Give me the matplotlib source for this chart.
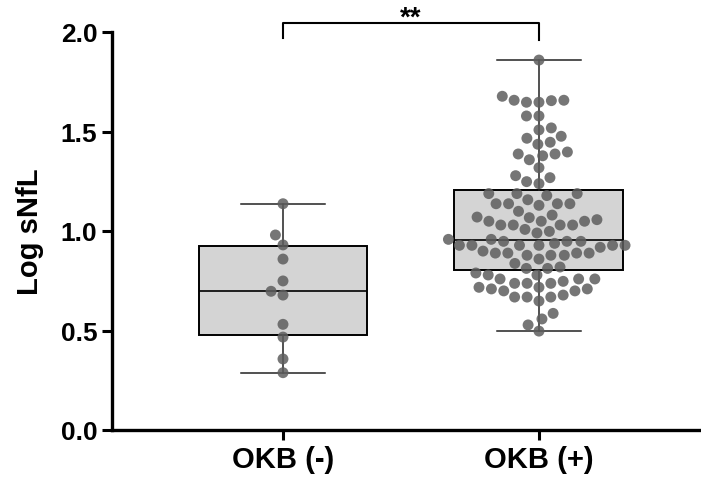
import matplotlib
matplotlib.use("Agg")
import matplotlib.pyplot as plt
import numpy as np

plt.rcParams["font.family"] = ["Liberation Sans", "DejaVu Sans"]
plt.rcParams["font.weight"] = "bold"

# ── data ────────────────────────────────────────────────────────────────────
groups = ["OKB (-)", "OKB (+)"]

okb_neg = [1.137, 0.980, 0.930, 0.859, 0.749, 0.697, 0.678, 0.531, 0.467,
           0.357, 0.288]

okb_pos = [1.859,
           1.677, 1.655, 1.647, 1.647, 1.657, 1.657,
           1.578, 1.578, 1.518, 1.508, 1.476, 1.466, 1.446, 1.436,
           1.397, 1.387, 1.378, 1.387, 1.358, 1.318, 1.268, 1.278,
           1.238, 1.248,
           1.188, 1.178, 1.188, 1.188, 1.137, 1.129, 1.137, 1.137, 1.137,
           1.157, 1.099, 1.080, 1.067, 1.070, 1.057, 1.049,
           1.030, 1.030, 1.030, 1.030, 1.049, 1.049, 1.008, 0.998, 0.990,
           0.958, 0.948, 0.918, 0.938, 0.928, 0.928, 0.928, 0.928, 0.928,
           0.928, 0.948, 0.948, 0.958,
           0.889, 0.889, 0.878, 0.878, 0.859, 0.878, 0.889, 0.889, 0.899,
           0.837, 0.812, 0.812, 0.819, 0.789, 0.779, 0.779,
           0.759, 0.747, 0.737, 0.717, 0.717, 0.737, 0.737, 0.759, 0.759,
           0.709, 0.699, 0.678, 0.668, 0.668, 0.668, 0.699, 0.709,
           0.648, 0.586, 0.558, 0.528, 0.497]

# box summaries (Prism style: whiskers = min / max)
q1 = [0.477, 0.806]
med = [0.697, 0.956]
q3 = [0.923, 1.204]
wlo = [0.288, 0.497]
whi = [1.137, 1.859]

sig_label = "**"

# ── figure ──────────────────────────────────────────────────────────────────
fig = plt.figure(figsize=(7.01, 4.81), dpi=100)
ax = fig.add_axes([112 / 701, 1 - 431 / 481, 1 - 112 / 701, (431 - 33) / 481])
ax.set_xlim(-0.668, 1.633)
ax.set_ylim(0, 2.0)

stats = [dict(q1=q1[i], med=med[i], q3=q3[i], whislo=wlo[i], whishi=whi[i],
              fliers=[]) for i in range(2)]
ax.bxp(stats, positions=[0, 1], widths=0.66, patch_artist=True,
       showfliers=False,
       boxprops=dict(facecolor="#d4d4d4", edgecolor="black", lw=1.4),
       medianprops=dict(color="black", lw=1.2),
       whiskerprops=dict(color="#222222", lw=1.1),
       capprops=dict(color="#222222", lw=1.1),
       capwidths=0.33, zorder=1)


def swarm_offsets(values, d):
    """simple beeswarm in pixel space, returns x offsets in pixels"""
    ypix = ax.transData.transform(
        np.column_stack([np.zeros(len(values)), values]))[:, 1]
    order = np.argsort(ypix)
    placed = []
    xs = np.zeros(len(values))
    for i in order:
        y = ypix[i]
        cands = [0.0]
        for (px, py) in placed:
            dy = abs(py - y)
            if dy < d:
                dx = np.sqrt(d * d - dy * dy)
                cands += [px + dx, px - dx]
        cands = sorted(cands, key=lambda c: (abs(c), c))
        for c in cands:
            if all((c - px) ** 2 + (y - py) ** 2 >= d * d - 1e-6
                   for (px, py) in placed):
                xs[i] = c
                placed.append((c, y))
                break
    return xs


px_per_unit = (ax.transData.transform((1, 0))[0]
               - ax.transData.transform((0, 0))[0])

for pos, vals in zip([0, 1], [okb_neg, okb_pos]):
    off = swarm_offsets(vals, 12.5) / px_per_unit
    ax.scatter(pos + off, vals, s=62, color="#5e5e5e", alpha=0.85,
               edgecolors="none", zorder=3, clip_on=False)

# significance bracket
ax.plot([0, 0, 1, 1], [1.97, 2.044, 2.044, 1.96], color="black", lw=1.5,
        clip_on=False)
ax.text(0.5, 2.035, sig_label, ha="center", va="baseline", fontsize=20,
        fontweight="bold")

ax.spines["top"].set_visible(False)
ax.spines["right"].set_visible(False)
for s in ["left", "bottom"]:
    ax.spines[s].set_linewidth(2.4)
ax.tick_params(axis="both", width=2.2, length=7)
ax.set_yticks([0.0, 0.5, 1.0, 1.5, 2.0])
ax.set_yticklabels(["0.0", "0.5", "1.0", "1.5", "2.0"], fontsize=19,
                   fontweight="bold")
ax.set_xticks([0, 1])
ax.set_xticklabels(groups, fontsize=21, fontweight="bold")
ax.set_ylabel("Log sNfL", fontsize=21, fontweight="bold", labelpad=12)

fig.savefig("out.png", dpi=100)
